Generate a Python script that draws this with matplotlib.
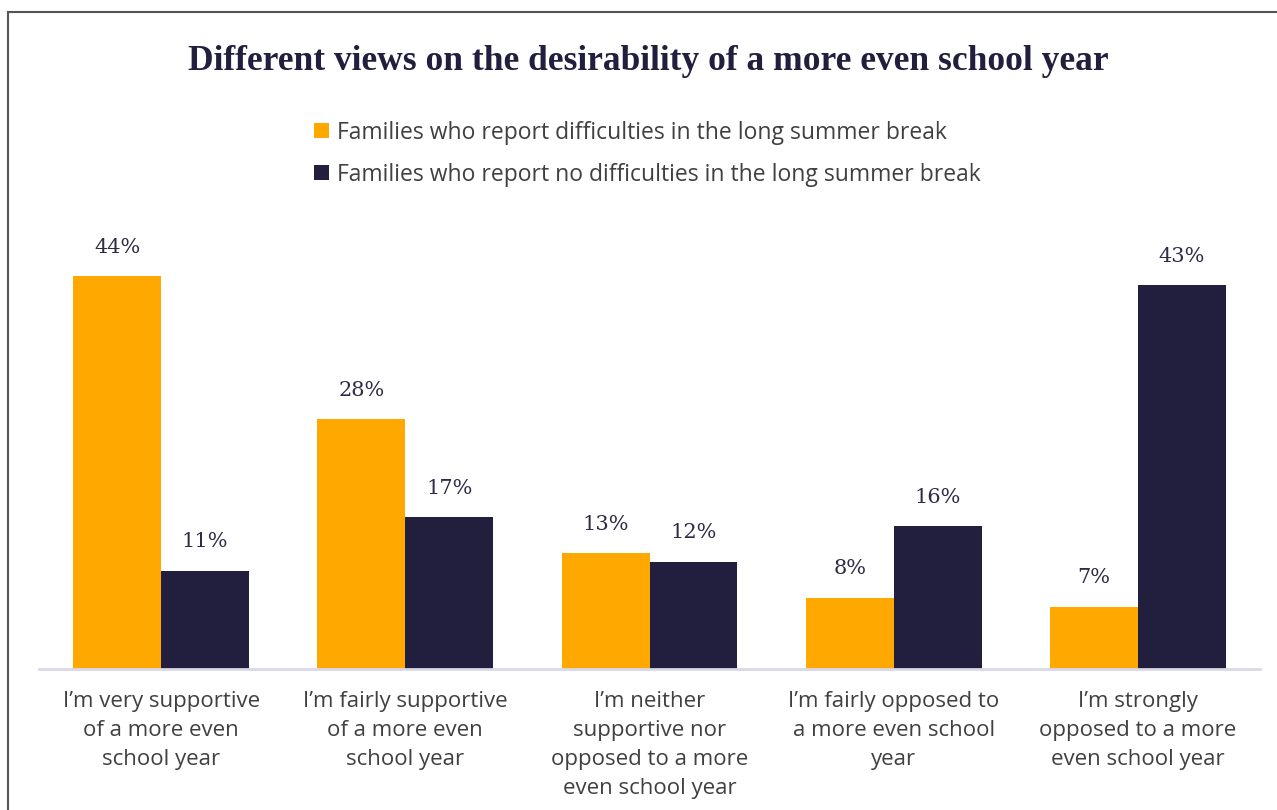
import numpy as np
import matplotlib.pyplot as plt
from matplotlib.patches import Rectangle

categories = [
    "I\u2019m very supportive\nof a more even\nschool year",
    "I\u2019m fairly supportive\nof a more even\nschool year",
    "I\u2019m neither\nsupportive nor\nopposed to a more\neven school year",
    "I\u2019m fairly opposed to\na more even school\nyear",
    "I\u2019m strongly\nopposed to a more\neven school year",
]
with_difficulties = [44, 28, 13, 8, 7]
no_difficulties = [11, 17, 12, 16, 43]
series_names = [
    "Families who report difficulties in the long summer break",
    "Families who report no difficulties in the long summer break",
]

ORANGE = "#FFA800"
NAVY = "#211E3E"
TEXT = "#404040"

W, H = 1277, 810
fig = plt.figure(figsize=(W / 100, H / 100), dpi=100)

# frame around the chart area (runs off the right and bottom edges)
fig.patches.append(Rectangle((8 / W, -0.1), 1.2, 1.1 - 12 / H,
                             transform=fig.transFigure, fill=False,
                             edgecolor="#555555", linewidth=1.5))

ax = fig.add_axes([39 / W, (H - 669) / H, (1260 - 39) / W, (669 - 230) / H])

x = np.arange(len(categories))
bw = 0.36
b1 = ax.bar(x - bw / 2, with_difficulties, bw, color=ORANGE, label=series_names[0])
b2 = ax.bar(x + bw / 2, no_difficulties, bw, color=NAVY, label=series_names[1])

for bars, vals in [(b1, with_difficulties), (b2, no_difficulties)]:
    for rect, v in zip(bars, vals):
        ax.annotate(f"{v}%", (rect.get_x() + rect.get_width() / 2, v),
                    xytext=(0, 14), textcoords="offset points",
                    ha="center", va="bottom", fontsize=15,
                    family="DejaVu Serif", color="#2d2b45")

ax.set_xlim(-0.5, len(categories) - 0.5)
ax.set_ylim(0, 49.2)
ax.set_yticks([])
for s in ["top", "right", "left"]:
    ax.spines[s].set_visible(False)
ax.spines["bottom"].set_color("#d9d8e6")
ax.spines["bottom"].set_linewidth(2)

ax.set_xticks(x)
ax.set_xticklabels(categories, fontsize=16, family="Open Sans", color=TEXT,
                   linespacing=1.49)
ax.tick_params(axis="x", length=0, pad=16)

fig.text(0.508, 1 - 62 / H, "Different views on the desirability of a more even school year",
         ha="center", va="center", fontsize=25.5, fontweight="bold",
         family="Liberation Serif", color=NAVY)

fig.legend(handles=[b1, b2], loc="upper left",
           bbox_to_anchor=(293 / W, 1 - 100 / H), frameon=False,
           prop={"family": "Open Sans", "size": 16.5}, labelcolor=TEXT,
           handlelength=0.65, handleheight=0.65, handletextpad=0.35,
           labelspacing=0.78)

fig.savefig("out.png", dpi=100, facecolor="white")
